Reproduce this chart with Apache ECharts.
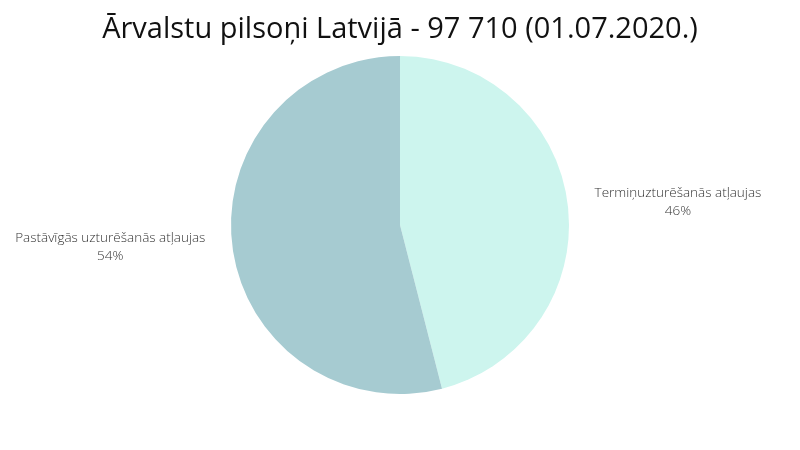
<!DOCTYPE html>
<html>
<head>
<meta charset="utf-8">
<script src="https://cdn.jsdelivr.net/npm/echarts@6/dist/echarts.min.js"></script>
<style>
  html, body { margin: 0; padding: 0; background: #fff; }
  #chart { width: 800px; height: 450px; }
</style>
</head>
<body>
<div id="chart"></div>
<script>
// data
const titleText = "Ārvalstu pilsoņi Latvijā - 97 710 (01.07.2020.)";
const categories = ["Termiņuzturēšanās atļaujas", "Pastāvīgās uzturēšanās atļaujas"];
const shares = [46, 54];
const colors = ["#cdf5ee", "#a6cbd1"];

const chart = echarts.init(document.getElementById("chart"));

const option = {
  animation: false,
  title: {
    text: titleText,
    left: "center",
    top: 10,
    textStyle: {
      fontFamily: "Open Sans",
      fontSize: 29,
      fontWeight: "normal",
      color: "#111"
    }
  },
  series: [
    {
      type: "pie",
      center: [400, 225],
      radius: 169,
      startAngle: 90,
      clockwise: true,
      silent: true,
      label: {
        show: true,
        position: "outside",
        formatter: (p) => "{t|" + p.name + "}\n{t|" + p.percent + "%}",
        distanceToLabelLine: 5,
        rich: {
          t: {
            align: "center",
            fontFamily: "Open Sans",
            fontSize: 13.5,
            fontWeight: 300,
            color: "#333",
            lineHeight: 18
          }
        }
      },
      labelLine: {
        show: false,
        length: 10,
        length2: 12
      },
      data: categories.map((name, i) => ({
        name: name,
        value: shares[i],
        itemStyle: { color: colors[i] }
      }))
    }
  ]
};

chart.setOption(option);
</script>
</body>
</html>
